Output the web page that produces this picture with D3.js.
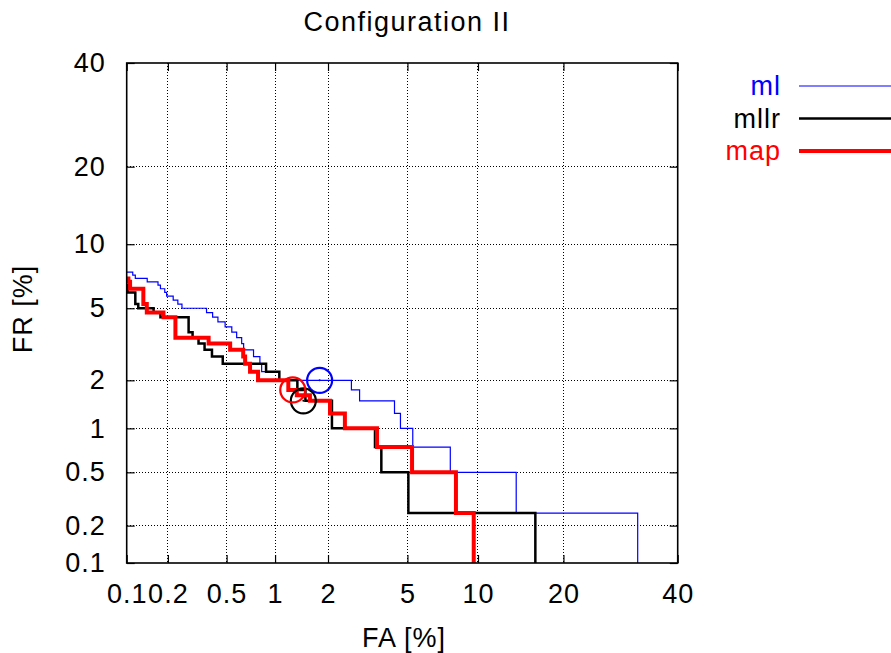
<!DOCTYPE html>
<html>
<head>
<meta charset="utf-8">
<script src="https://cdn.jsdelivr.net/npm/d3@7"></script>
<style>
body{margin:0;background:#fff}
svg text{font-family:"Liberation Sans",Arial,Helvetica,sans-serif;fill:#000;letter-spacing:1px}
</style>
</head>
<body>
<svg id="chart" width="891" height="653"></svg>
<script>
// tick labels, in percent
var xTicks=[0.1,0.2,0.5,1,2,5,10,20,40]
var yTicks=[0.1,0.2,0.5,1,2,5,10,20,40]

// DET steps: [FA %, FR %], each FR level starts at that FA
var ml=[[0.1,7.5],[0.111,7.25],[0.116,7.0],[0.142,6.75],[0.170,6.5],[0.177,6.25],
        [0.190,6.0],[0.196,5.75],[0.218,5.5],[0.235,5.25],[0.251,5.0],[0.369,4.75],
        [0.405,4.5],[0.439,4.25],[0.489,4.0],[0.54,3.75],[0.58,3.5],[0.624,3.25],
        [0.642,3.0],[0.74,2.75],[0.81,2.5],[0.83,2.25],[1.06,2.0],[2.66,1.75],
        [2.93,1.5],[4.35,1.25],[4.64,1.0],[5.29,0.75],[7.72,0.5],[13.9,0.25],[32.3,0]]
var mllr=[[0.1,6.5],[0.102,6.0],[0.116,5.25],[0.122,5.0],[0.158,4.75],[0.177,4.5],
          [0.279,3.75],[0.297,3.5],[0.326,3.25],[0.358,3.0],[0.401,2.75],[0.472,2.5],
          [0.883,2.25],[1.06,2.0],[1.35,1.75],[1.50,1.5],[2.10,1.0],[3.5,0.75],
          [3.76,0.5],[5.05,0.25],[16.2,0]]
var map=[[0.1,7.0],[0.103,6.75],[0.106,6.25],[0.133,5.25],[0.141,4.75],[0.186,4.5],
         [0.226,3.5],[0.381,3.25],[0.527,3.0],[0.638,2.75],[0.656,2.5],[0.704,2.25],
         [0.789,2.0],[1.197,1.75],[1.34,1.625],[1.59,1.5],[2.05,1.25],[2.46,1.0],
         [3.58,0.75],[5.25,0.5],[8.15,0.25],[9.62,0]]

// operating points (circles)
var mlPoint=[1.8,2.0]
var mllrPoint=[1.46,1.5]
var mapPoint=[1.27,1.75]

var series=[
  {name:"ml",data:ml,point:mlPoint,color:"#0000ff",width:1.2},
  {name:"mllr",data:mllr,point:mllrPoint,color:"#000000",width:2.5},
  {name:"map",data:map,point:mapPoint,color:"#ff0000",width:4}
]

// inverse normal cdf (Acklam)
var probit=function(p)
{
  var a=[-39.69683028665376,220.9460984245205,-275.9285104469687,138.3577518672690,-30.66479806614716,2.506628277459239]
  var b=[-54.47609879822406,161.5858368580409,-155.6989798598866,66.80131188771972,-13.28068155288572]
  var c=[-0.007784894002430293,-0.3223964580411365,-2.400758277161838,-2.549732539343734,4.374664141464968,2.938163982698783]
  var d=[0.007784695709041462,0.3224671290700398,2.445134137142996,3.754408661907416]
  var q,r
  if(p<0.02425){
    q=Math.sqrt(-2*Math.log(p))
    return (((((c[0]*q+c[1])*q+c[2])*q+c[3])*q+c[4])*q+c[5])/((((d[0]*q+d[1])*q+d[2])*q+d[3])*q+1)
  }
  if(p<=1-0.02425){
    q=p-0.5; r=q*q
    return (((((a[0]*r+a[1])*r+a[2])*r+a[3])*r+a[4])*r+a[5])*q/(((((b[0]*r+b[1])*r+b[2])*r+b[3])*r+b[4])*r+1)
  }
  q=Math.sqrt(-2*Math.log(1-p))
  return -(((((c[0]*q+c[1])*q+c[2])*q+c[3])*q+c[4])*q+c[5])/((((d[0]*q+d[1])*q+d[2])*q+d[3])*q+1)
}

var margins={left:126.7,top:63,right:213.3,bottom:90}
var screen={width:891,height:653}
var graph={width:screen.width-margins.left-margins.right,
           height:screen.height-margins.top-margins.bottom}

var fontSize=27
var svg=d3.select("#chart")

var xLin=d3.scaleLinear()
  .domain([probit(xTicks[0]/100),probit(xTicks[xTicks.length-1]/100)])
  .range([0,graph.width])
var yLin=d3.scaleLinear()
  .domain([probit(yTicks[0]/100),probit(yTicks[yTicks.length-1]/100)])
  .range([graph.height,0])
var xScale=function(v){return xLin(probit(Math.max(v,xTicks[0])/100))}
var yScale=function(v){return yLin(probit(Math.max(v,yTicks[0])/100))}

var target=svg.append("g")
  .attr("transform","translate("+margins.left+","+margins.top+")")

// grid
var grid=target.append("g")
grid.selectAll(".gx")
  .data(xTicks.slice(1,-1))
  .enter().append("line")
  .attr("x1",function(t){return xScale(t)}).attr("x2",function(t){return xScale(t)})
  .attr("y1",0).attr("y2",graph.height)
grid.selectAll(".gy")
  .data(yTicks.slice(1,-1))
  .enter().append("line")
  .attr("y1",function(t){return yScale(t)}).attr("y2",function(t){return yScale(t)})
  .attr("x1",0).attr("x2",graph.width)
grid.selectAll("line")
  .attr("stroke","#000").attr("stroke-width",1)
  .attr("stroke-dasharray","1,2").attr("shape-rendering","crispEdges")

// axes, ticks pointing inwards like gnuplot
var xVals=xTicks.map(function(t){return probit(t/100)})
var yVals=yTicks.map(function(t){return probit(t/100)})
var fmt=function(ticks){return function(d,i){return ticks[i]}}

var xAxis=target.append("g")
  .attr("transform","translate(0,"+graph.height+")")
  .call(d3.axisBottom(xLin).tickValues(xVals).tickFormat(fmt(xTicks))
        .tickSize(-8).tickPadding(21))
var xTop=target.append("g")
  .call(d3.axisTop(xLin).tickValues(xVals).tickFormat("").tickSize(-8))
var yAxis=target.append("g")
  .call(d3.axisLeft(yLin).tickValues(yVals).tickFormat(fmt(yTicks))
        .tickSize(-8).tickPadding(21))
var yRight=target.append("g")
  .attr("transform","translate("+graph.width+",0)")
  .call(d3.axisRight(yLin).tickValues(yVals).tickFormat("").tickSize(-8))

target.selectAll(".domain").remove()
target.selectAll(".tick line").attr("stroke","#000").attr("stroke-width",1.2)
target.selectAll(".tick text")
  .style("font-size",fontSize+"px")
  .style("font-family","'Liberation Sans',Arial,sans-serif")
  .attr("fill","#000")

// curves
var plot=target.append("g")
var line=d3.line()
  .x(function(d){return xScale(d[0])})
  .y(function(d){return yScale(d[1])})
  .curve(d3.curveStepAfter)

series.forEach(function(s){
  plot.append("path")
    .datum(s.data)
    .attr("d",line)
    .attr("fill","none")
    .attr("stroke",s.color)
    .attr("stroke-width",s.width)
})
series.forEach(function(s){
  plot.append("circle")
    .attr("cx",xScale(s.point[0]))
    .attr("cy",yScale(s.point[1]))
    .attr("r",12.5)
    .attr("fill","none")
    .attr("stroke",s.color)
    .attr("stroke-width",2.2)
  plot.append("circle")
    .attr("cx",xScale(s.point[0]))
    .attr("cy",yScale(s.point[1]))
    .attr("r",1)
    .attr("fill",s.color)
})

// frame
target.append("rect")
  .attr("width",graph.width).attr("height",graph.height)
  .attr("fill","none").attr("stroke","#000").attr("stroke-width",1.6)

// labels
var labels=svg.append("g")
labels.append("text")
  .text("Configuration II")
  .attr("text-anchor","middle")
  .attr("x",407)
  .attr("y",31)
  .style("font-size",fontSize+"px")
  .style("letter-spacing","1.5px")
labels.append("text")
  .text("FA [%]")
  .attr("text-anchor","middle")
  .attr("x",404)
  .attr("y",647)
  .style("font-size",fontSize+"px")
labels.append("g")
  .attr("transform","translate(32,309)")
  .append("text")
  .text("FR [%]")
  .attr("text-anchor","middle")
  .attr("transform","rotate(270)")
  .style("font-size",fontSize+"px")

// legend
var legend=svg.append("g")
  .attr("transform","translate(781,86)")
var entries=legend.selectAll("g")
  .data(series)
  .enter().append("g")
  .attr("transform",function(s,i){return "translate(0,"+(i*32.5)+")"})
entries.append("text")
  .text(function(s){return s.name})
  .attr("text-anchor","end")
  .attr("y",9)
  .attr("fill",function(s){return s.color})
  .style("fill",function(s){return s.color})
  .style("font-size",fontSize+"px")
entries.append("line")
  .attr("x1",18).attr("x2",110)
  .attr("stroke",function(s){return s.color})
  .attr("stroke-width",function(s){return s.width})
</script>
</body>
</html>
